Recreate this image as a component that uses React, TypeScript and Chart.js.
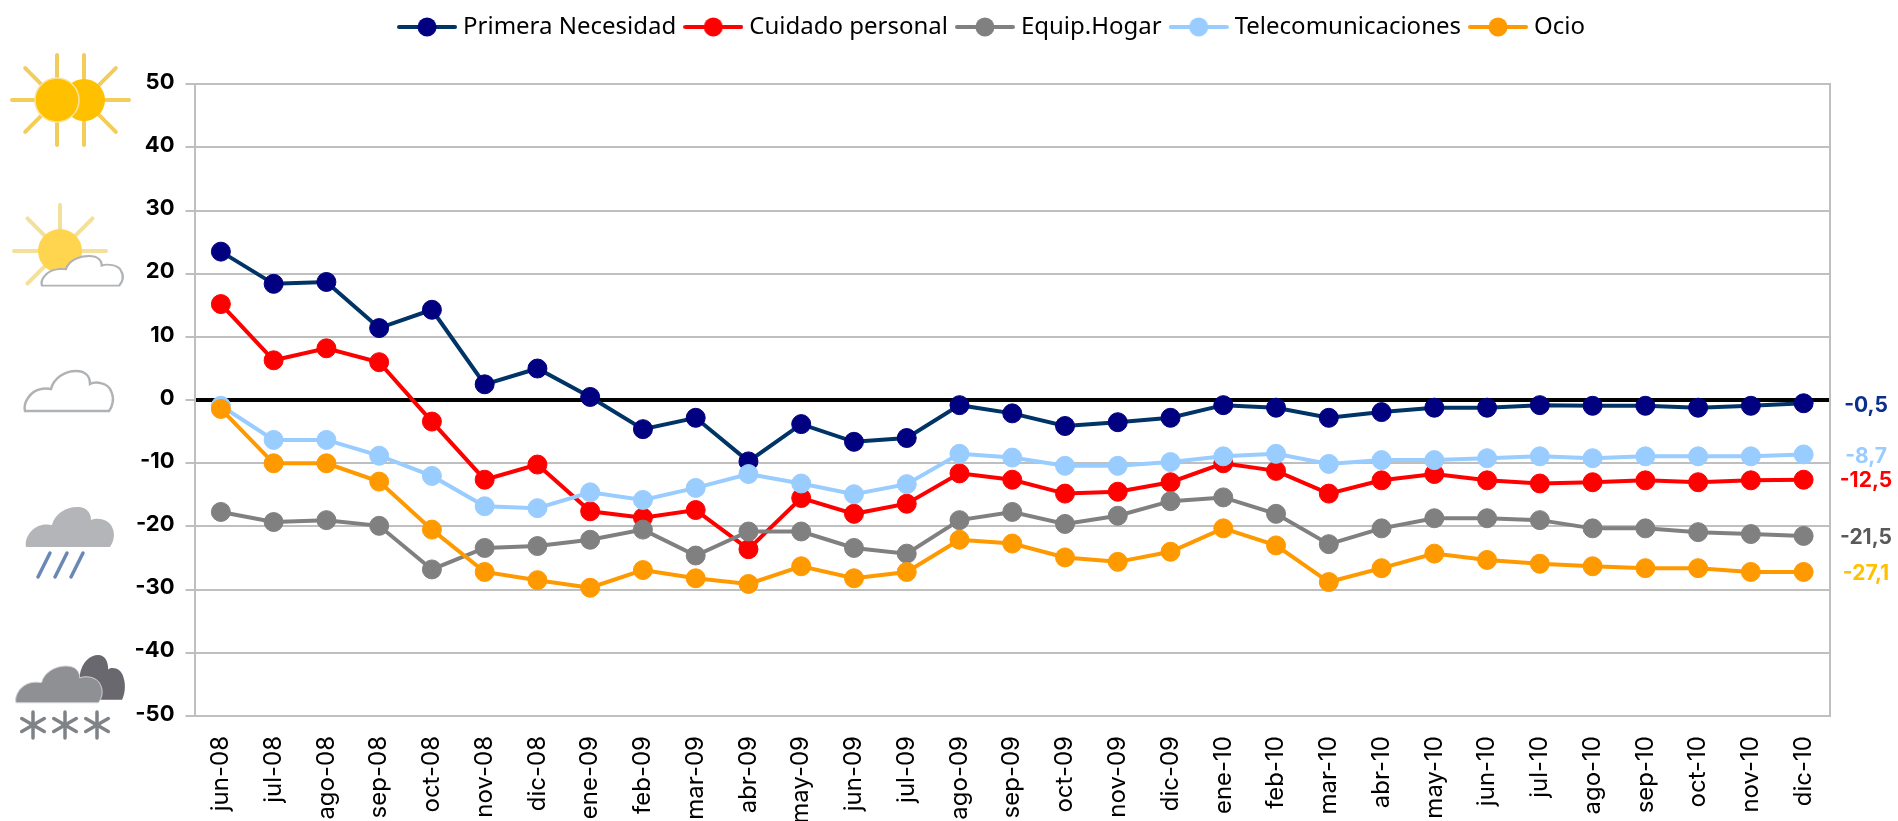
import React, { useEffect, useRef } from "react";
import { Chart, registerables } from "chart.js";

Chart.register(...registerables);

const categories = ["jun-08","jul-08","ago-08","sep-08","oct-08","nov-08","dic-08","ene-09","feb-09","mar-09","abr-09","may-09","jun-09","jul-09","ago-09","sep-09","oct-09","nov-09","dic-09","ene-10","feb-10","mar-10","abr-10","may-10","jun-10","jul-10","ago-10","sep-10","oct-10","nov-10","dic-10"];
const primera = [23.5,18.4,18.7,11.4,14.3,2.5,5.0,0.5,-4.6,-2.8,-9.7,-3.8,-6.6,-6.0,-0.8,-2.1,-4.1,-3.5,-2.8,-0.8,-1.2,-2.8,-1.9,-1.2,-1.2,-0.8,-0.9,-0.9,-1.2,-0.9,-0.5];
const cuidado = [15.2,6.3,8.2,6.0,-3.4,-12.6,-10.2,-17.6,-18.6,-17.4,-23.6,-15.5,-18.0,-16.4,-11.6,-12.6,-14.8,-14.5,-13.0,-10.0,-11.2,-14.8,-12.7,-11.7,-12.7,-13.2,-13.0,-12.7,-13.0,-12.7,-12.6];
const equip = [-17.7,-19.3,-19.0,-19.9,-26.8,-23.4,-23.1,-22.1,-20.5,-24.6,-20.8,-20.8,-23.4,-24.3,-19.0,-17.7,-19.6,-18.3,-16.0,-15.4,-18.0,-22.8,-20.3,-18.7,-18.7,-19.0,-20.3,-20.3,-20.9,-21.2,-21.5];
const tele = [-0.9,-6.3,-6.3,-8.8,-12.0,-16.8,-17.1,-14.6,-15.8,-13.9,-11.7,-13.2,-14.9,-13.3,-8.5,-9.1,-10.4,-10.4,-9.8,-8.9,-8.5,-10.1,-9.5,-9.5,-9.2,-8.9,-9.2,-8.9,-8.9,-8.9,-8.6];
const ocio = [-1.4,-10.0,-10.0,-12.9,-20.5,-27.2,-28.5,-29.7,-26.9,-28.2,-29.1,-26.3,-28.2,-27.2,-22.1,-22.7,-24.9,-25.6,-24.0,-20.3,-23.0,-28.8,-26.6,-24.3,-25.3,-25.9,-26.3,-26.6,-26.6,-27.2,-27.2];

const seriesNames = ["Primera Necesidad","Cuidado personal","Equip.Hogar","Telecomunicaciones","Ocio"];
const seriesValues = [primera, cuidado, equip, tele, ocio];
const lineColors = ["#003366","#FF0000","#808080","#99CCFF","#FF9900"];
const markerColors = ["#000080","#FF0000","#808080","#99CCFF","#FF9900"];

const endLabelTexts = ["-0,5","-12,5","-21,5","-8,7","-27,1"];
const endLabelValues = [-0.5,-12.5,-21.5,-8.7,-27.1];
const endLabelColors = ["#0A2F8C","#FF0000","#595959","#99CCFF","#FFC000"];

const TICK_FONT = "Inter, sans-serif";

function legendMark(line: string, marker: string) {
  const c = document.createElement("canvas");
  c.width = 60;
  c.height = 22;
  const g = c.getContext("2d")!;
  g.strokeStyle = line;
  g.lineWidth = 4;
  g.lineCap = "round";
  g.beginPath();
  g.moveTo(2, 11);
  g.lineTo(58, 11);
  g.stroke();
  g.fillStyle = marker;
  g.beginPath();
  g.arc(30, 11, 9.5, 0, Math.PI * 2);
  g.fill();
  return c;
}

const endLabelsPlugin = {
  id: "endLabels",
  afterDatasetsDraw(chart: any) {
    const { ctx, scales } = chart;
    ctx.save();
    ctx.font = `bold 21px ${TICK_FONT}`;
    ctx.textAlign = "center";
    ctx.textBaseline = "middle";
    endLabelTexts.forEach((t, i) => {
      ctx.fillStyle = endLabelColors[i];
      ctx.fillText(t, 1866, scales.y.getPixelForValue(endLabelValues[i]) + 2);
    });
    ctx.restore();
  },
};

const CLOUD = "M1,40 C-1,32 6,20 17,18 C21,17 25,18 27,18 C30,6 42,0 52,0 C62,0 66,6 66,13 C72,10 84,12 87,20 C91,28 88,36 85,40 Z";

function Rays({ cx, cy, inner, outer, angles, color }: any) {
  return (
    <g stroke={color} strokeWidth={4} strokeLinecap="round">
      {angles.map((a: number) => {
        const r = (a * Math.PI) / 180;
        return <line key={a} x1={cx + inner * Math.cos(r)} y1={cy + inner * Math.sin(r)} x2={cx + outer * Math.cos(r)} y2={cy + outer * Math.sin(r)} />;
      })}
    </g>
  );
}

function Flake({ cx, cy }: any) {
  return (
    <g stroke="#7F8387" strokeWidth={3.5} strokeLinecap="round">
      {[90, 30, 150].map((a) => {
        const r = (a * Math.PI) / 180;
        return <line key={a} x1={cx - 13 * Math.cos(r)} y1={cy - 13 * Math.sin(r)} x2={cx + 13 * Math.cos(r)} y2={cy + 13 * Math.sin(r)} />;
      })}
    </g>
  );
}

function Icons() {
  return (
    <svg width={1898} height={821} style={{ position: "absolute", left: 0, top: 0, pointerEvents: "none" }}>
      {/* double sun */}
      <Rays cx={57} cy={100} inner={20} outer={45} angles={[180, -90, 90, -135, 135]} color="#F2CD5C" />
      <Rays cx={84} cy={100} inner={20} outer={45} angles={[0, -90, 90, -45, 45]} color="#F2CD5C" />
      <circle cx={84} cy={100} r={21} fill="#FFC000" />
      <circle cx={57} cy={100} r={22} fill="#FFC000" stroke="#F7E3A0" strokeWidth={1.5} />
      {/* sun + cloud */}
      <Rays cx={60} cy={251} inner={20} outer={46} angles={[180, 0, -90, -135, -45, 135]} color="#F3E09A" />
      <circle cx={60} cy={251} r={22} fill="#FFD54F" />
      <path d={CLOUD} transform="translate(41,256) scale(0.92,0.74)" fill="#fff" stroke="#B0B3B6" strokeWidth={2.5} />
      {/* cloud */}
      <path d={CLOUD} transform="translate(24,371)" fill="#fff" stroke="#B0B3B6" strokeWidth={2.5} />
      {/* rain */}
      <path d={CLOUD} transform="translate(25,507)" fill="#B3B5B8" />
      <g stroke="#6A88B5" strokeWidth={3.5} strokeLinecap="round">
        <line x1={50} y1={553} x2={38} y2={577} />
        <line x1={67} y1={553} x2={55} y2={577} />
        <line x1={83} y1={553} x2={71} y2={577} />
      </g>
      {/* snow */}
      <path d={CLOUD} transform="translate(60,655) scale(0.73,1.12)" fill="#68686E" />
      <path d={CLOUD} transform="translate(15,666) scale(0.98,0.92)" fill="#8E9094" stroke="#D6D6D8" strokeWidth={1} />
      <Flake cx={33} cy={725} />
      <Flake cx={65} cy={725} />
      <Flake cx={97} cy={725} />
    </svg>
  );
}

export default function App() {
  const ref = useRef<HTMLCanvasElement>(null);
  useEffect(() => {
    const marks = lineColors.map((c, i) => legendMark(c, markerColors[i]));
    const chart = new Chart(ref.current!, {
      type: "line",
      data: {
        labels: categories,
        datasets: seriesNames.map((name, i) => ({
          label: name,
          data: seriesValues[i],
          borderColor: lineColors[i],
          backgroundColor: markerColors[i],
          pointBackgroundColor: markerColors[i],
          pointBorderColor: markerColors[i],
          borderWidth: 4,
          pointRadius: 9.5,
          pointBorderWidth: 1,
          tension: 0,
          yAxisID: "y",
          order: seriesNames.length - i,
        })),
      },
      options: {
        responsive: false,
        animation: false,
        layout: { padding: { left: 90, right: 0, top: 2, bottom: 0 } },
        scales: {
          x: {
            offset: true,
            grid: { display: false },
            border: { display: false },
            ticks: { autoSkip: false, minRotation: 90, maxRotation: 90, padding: 12, color: "#000", font: { family: TICK_FONT, size: 24 } },
            afterFit(s: any) { s.height = 105; },
          },
          y: {
            position: "left",
            min: -50,
            max: 50,
            grid: {
              color: (c: any) => (c.tick && c.tick.value === 0 ? "#000" : "#BFBFBF"),
              lineWidth: (c: any) => (c.tick && c.tick.value === 0 ? 4 : 2),
              tickColor: "#BFBFBF",
              tickWidth: 2,
              tickLength: 9,
            },
            border: { color: "#BFBFBF", width: 2 },
            ticks: { stepSize: 10, padding: 11, labelOffset: -2, color: "#000", font: { family: TICK_FONT, size: 22, weight: "bold" } },
            afterFit(s: any) { s.width = 104.5; },
          },
          y2: {
            position: "right",
            min: -50,
            max: 50,
            grid: { display: false },
            border: { color: "#BFBFBF", width: 2 },
            ticks: { display: false },
            afterFit(s: any) { s.width = 68; },
          },
        },
        plugins: {
          tooltip: { enabled: false },
          title: { display: true, text: " ", weight: 500, font: { size: 1 }, padding: { top: 0, bottom: 34 } },
          legend: {
            position: "top",
            labels: {
              usePointStyle: true,
              pointStyleWidth: 48,
              padding: 13,
              color: "#000",
              font: { family: "'Noto Sans', sans-serif", size: 24 },
              generateLabels: (c: any) =>
                c.data.datasets.map((d: any, i: number) => ({
                  text: d.label,
                  pointStyle: marks[i],
                  fillStyle: "transparent",
                  strokeStyle: "transparent",
                  lineWidth: 0,
                  hidden: false,
                  datasetIndex: i,
                })),
            },
          },
        },
      } as any,
      plugins: [endLabelsPlugin],
    });
    return () => chart.destroy();
  }, []);
  return (
    <div style={{ position: "fixed", left: 0, top: 0, width: 1898, height: 821, background: "#fff" }}>
      <canvas ref={ref} width={1898} height={821} style={{ display: "block" }} />
      <Icons />
    </div>
  );
}
